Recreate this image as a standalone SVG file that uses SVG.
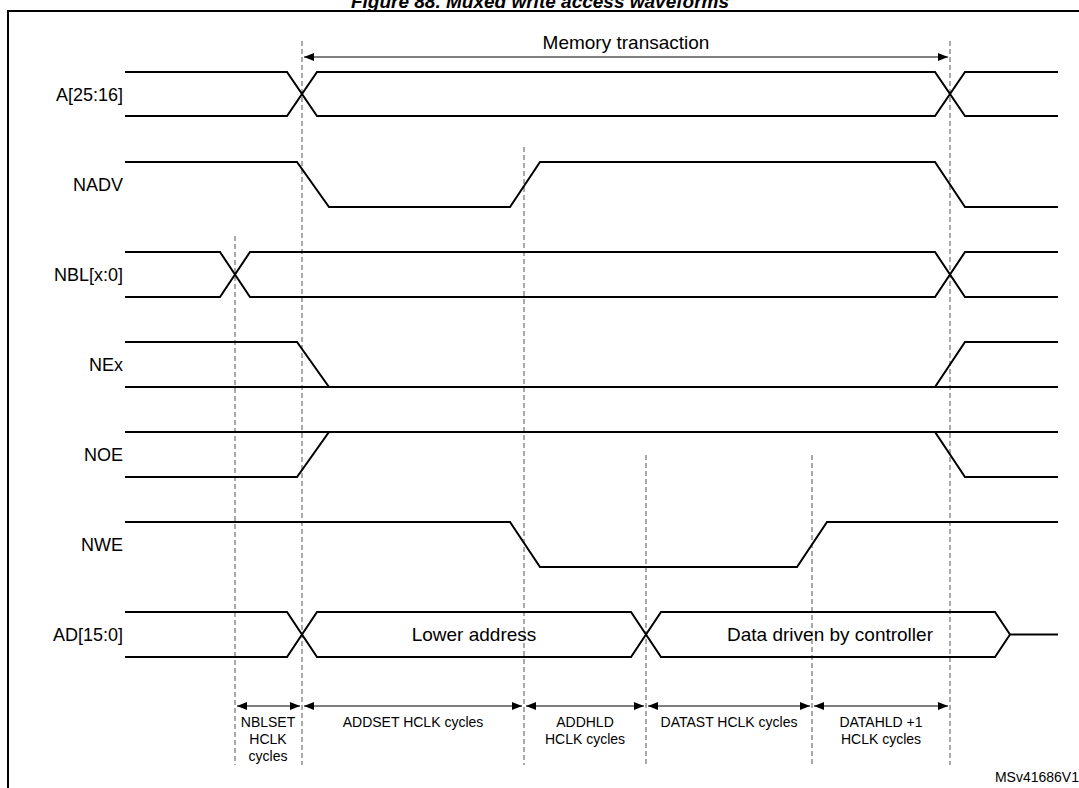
<svg xmlns="http://www.w3.org/2000/svg" width="1079" height="788" viewBox="0 0 1079 788">
<style>
.w{fill:none;stroke:#000;stroke-width:2}
.d{fill:none;stroke:#555;stroke-width:1;stroke-dasharray:5,3}
.a{fill:none;stroke:#000;stroke-width:1.2}
.l{font-family:"Liberation Sans",Arial,sans-serif;font-size:18px;text-anchor:end}
.t{font-family:"Liberation Sans",Arial,sans-serif;font-size:19px;text-anchor:middle}
.s{font-family:"Liberation Sans",Arial,sans-serif;font-size:14px;text-anchor:middle}
</style>
<defs>
<marker id="m" markerWidth="10" markerHeight="8" refX="10" refY="4" orient="auto-start-reverse" markerUnits="userSpaceOnUse"><path d="M0,0 L10,4 L0,8 Z" fill="#000"/></marker>
</defs>
<rect width="1079" height="788" fill="#fff"/>
<text x="540" y="8" style="font-family:'Liberation Sans',Arial,sans-serif;font-size:19px;font-weight:bold;font-style:italic;text-anchor:middle">Figure 88. Muxed write access waveforms</text>
<rect x="8" y="11" width="1080" height="790" fill="none" stroke="#000" stroke-width="2"/>
<g id="connectors">
<path class="d" d="M302,41V765M950,41V765M524,147V765M235,236V765M646,455V765M812,455V765"/>
<line class="a" x1="304" y1="57" x2="948" y2="57" marker-start="url(#m)" marker-end="url(#m)"/>
<line class="a" x1="237" y1="706" x2="300" y2="706" marker-start="url(#m)" marker-end="url(#m)"/>
<line class="a" x1="304" y1="706" x2="522" y2="706" marker-start="url(#m)" marker-end="url(#m)"/>
<line class="a" x1="526" y1="706" x2="644" y2="706" marker-start="url(#m)" marker-end="url(#m)"/>
<line class="a" x1="648" y1="706" x2="810" y2="706" marker-start="url(#m)" marker-end="url(#m)"/>
<line class="a" x1="814" y1="706" x2="948" y2="706" marker-start="url(#m)" marker-end="url(#m)"/>
</g>
<text class="t" x="626" y="49">Memory transaction</text>
<g id="A"><text class="l" x="123" y="101">A[25:16]</text>
<path class="w" d="M125,72H287L317,116H935L965,72H1058M125,116H287L317,72H935L965,116H1058"/></g>
<g id="NADV"><text class="l" x="123" y="191">NADV</text>
<path class="w" d="M125,162H297L329,207H510L540,162H935L965,207H1058"/></g>
<g id="NBL"><text class="l" x="123" y="281">NBL[x:0]</text>
<path class="w" d="M125,252H220L250,297H935L965,252H1058M125,297H220L250,252H935L965,297H1058"/></g>
<g id="NEx"><text class="l" x="123" y="371">NEx</text>
<path class="w" d="M125,342H297L329,387H935L965,342H1058"/><path class="w" d="M125,387H1058"/></g>
<g id="NOE"><text class="l" x="123" y="461">NOE</text>
<path class="w" d="M125,477H297L329,432H935L965,477H1058"/><path class="w" d="M125,432H1058"/></g>
<g id="NWE"><text class="l" x="123" y="551">NWE</text>
<path class="w" d="M125,522H510L540,567H797L827,522H1058"/></g>
<g id="AD"><text class="l" x="123" y="641">AD[15:0]</text>
<path class="w" d="M125,612H287L317,657H631L661,612H995L1010,634.5H1058M125,657H287L317,612H631L661,657H995L1010,634.5"/>
<text class="t" x="474" y="641">Lower address</text>
<text class="t" x="830" y="641">Data driven by controller</text></g>
<g id="labels">
<text class="s" x="268" y="727">NBLSET</text><text class="s" x="268" y="744">HCLK</text><text class="s" x="268" y="761">cycles</text>
<text class="s" x="413" y="727">ADDSET HCLK cycles</text>
<text class="s" x="585" y="727">ADDHLD</text><text class="s" x="585" y="744">HCLK cycles</text>
<text class="s" x="729" y="727">DATAST HCLK cycles</text>
<text class="s" x="881" y="727">DATAHLD +1</text><text class="s" x="881" y="744">HCLK cycles</text>
<text class="s" x="1079" y="782" style="text-anchor:end">MSv41686V1</text>
</g>
</svg>
